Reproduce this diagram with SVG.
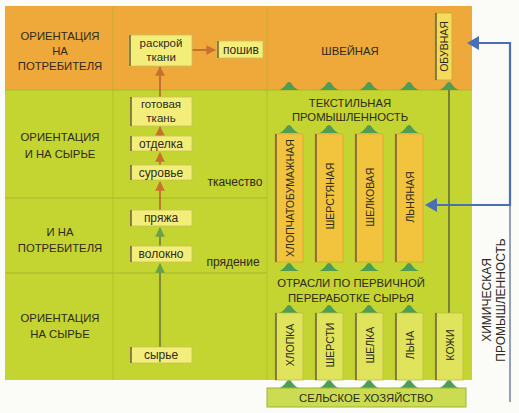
<svg xmlns="http://www.w3.org/2000/svg" width="519" height="413" viewBox="0 0 519 413">
<defs>
<style>
.t{font-family:"Liberation Sans",Arial,sans-serif;fill:#2e2a1e;text-anchor:middle}
.lab{font-size:11.3px}
.chem{font-size:12px}
.box{font-size:12px}
.box2{font-size:11.5px}
.vt{font-size:10.5px}
.mb{fill:#f3ee7a;stroke:#c9c060;stroke-width:0.8}
.edge{stroke:#6e6636;stroke-width:1.6}
.tb{fill:#f2c43e;stroke:#d8a832;stroke-width:0.8}
.rb{fill:#dfe45c;stroke:#b8c040;stroke-width:0.8}
.sep{stroke:#a7b82a;stroke-width:1}
</style>
<path id="tri" d="M-10,0 Q-6,-1 -2,-7 Q0,-9 2,-7 Q6,-1 10,0 Z" fill="#4f9c55"/>
<marker id="ah" viewBox="0 0 10 10" refX="9" refY="5" markerWidth="6" markerHeight="6" orient="auto">
<path d="M0,0 L10,5 L0,10 Z" fill="#c8702e"/>
</marker>
<marker id="ahg" viewBox="0 0 10 10" refX="9" refY="5" markerWidth="6" markerHeight="6" orient="auto">
<path d="M0,0 L10,5 L0,10 Z" fill="#6aa04a"/>
</marker>
</defs>
<rect width="519" height="413" fill="#fbfbf8"/>
<!-- panels -->
<g id="panels">
<rect x="5" y="6" width="467" height="84" fill="#efa93a"/>
<rect x="5" y="90" width="467" height="290" fill="#c4d430"/>
<line class="sep" x1="5" y1="90" x2="472" y2="90" stroke="#d8b83a"/>
<line class="sep" x1="113" y1="6" x2="113" y2="380" stroke="#c08a30" opacity="0.6"/>
<line class="sep" x1="267" y1="6" x2="267" y2="380" stroke="#c08a30" opacity="0.6"/>
<line class="sep" x1="5" y1="198" x2="267" y2="198"/>
<line class="sep" x1="5" y1="273" x2="267" y2="273"/>
</g>
<!-- left labels -->
<g id="orient-consumer">
<text class="t lab" x="60" y="40">ОРИЕНТАЦИЯ</text>
<text class="t lab" x="60" y="55">НА</text>
<text class="t lab" x="60" y="70">ПОТРЕБИТЕЛЯ</text>
</g>
<g id="orient-raw-and">
<text class="t lab" x="60" y="141">ОРИЕНТАЦИЯ</text>
<text class="t lab" x="60" y="158">И НА СЫРЬЕ</text>
</g>
<g id="and-consumer">
<text class="t lab" x="60" y="236">И НА</text>
<text class="t lab" x="60" y="252">ПОТРЕБИТЕЛЯ</text>
</g>
<g id="orient-raw">
<text class="t lab" x="60" y="322">ОРИЕНТАЦИЯ</text>
<text class="t lab" x="60" y="338">НА СЫРЬЕ</text>
</g>
<!-- connectors -->
<g id="connectors" fill="none">
<line x1="160" y1="347" x2="160" y2="264" stroke="#6e7a3a" stroke-width="1.6" marker-end="url(#ahg)"/>
<line x1="160" y1="246" x2="160" y2="228" stroke="#6e7a3a" stroke-width="1.6" marker-end="url(#ahg)"/>
<line x1="160" y1="210" x2="160" y2="182" stroke="#b8652c" stroke-width="1.6" marker-end="url(#ah)"/>
<line x1="160" y1="165" x2="160" y2="153" stroke="#b8652c" stroke-width="1.6" marker-end="url(#ah)"/>
<line x1="160" y1="136" x2="160" y2="127" stroke="#b8652c" stroke-width="1.6" marker-end="url(#ah)"/>
<line x1="160" y1="97" x2="160" y2="67" stroke="#b8652c" stroke-width="1.6" marker-end="url(#ah)"/>
<line x1="192" y1="50" x2="215" y2="50" stroke="#b8652c" stroke-width="1.6" marker-end="url(#ah)"/>
<line x1="449" y1="313" x2="449" y2="88" stroke="#5e6440" stroke-width="1.5"/>
<path d="M510,205 V402" stroke="#7083aa" stroke-width="1.5"/>
<path d="M476,43 H510 V205 H434" stroke="#4a6fb5" stroke-width="2.2"/>
<path d="M467,43 L479,36 L479,50 Z" fill="#4a6fb5"/>
<path d="M425,205 L437,198 L437,212 Z" fill="#4a6fb5"/>
<g id="arrows-row1"><use href="#tri" x="289" y="90"/><use href="#tri" x="329" y="90"/><use href="#tri" x="369" y="90"/><use href="#tri" x="409" y="90"/><use href="#tri" x="449" y="90"/></g>
<g id="arrows-row2"><use href="#tri" x="289" y="133"/><use href="#tri" x="329" y="133"/><use href="#tri" x="369" y="133"/><use href="#tri" x="409" y="133"/></g>
<g id="arrows-row3"><use href="#tri" x="289" y="271"/><use href="#tri" x="329" y="271"/><use href="#tri" x="369" y="271"/><use href="#tri" x="409" y="271"/></g>
<g id="arrows-row4"><use href="#tri" x="289" y="313"/><use href="#tri" x="329" y="313"/><use href="#tri" x="369" y="313"/><use href="#tri" x="409" y="313"/></g>
<g id="arrows-row5"><use href="#tri" x="289" y="388"/><use href="#tri" x="329" y="388"/><use href="#tri" x="369" y="388"/><use href="#tri" x="409" y="388"/><use href="#tri" x="449" y="388"/></g>
</g>
<!-- middle column nodes -->
<g id="raskroy"><rect class="mb" x="129" y="35" width="63" height="31"/><line class="edge" x1="130" y1="35" x2="130" y2="66"/><text class="t box2" x="161" y="47">раскрой</text><text class="t box2" x="161" y="61">ткани</text></g>
<g id="poshiv"><rect class="mb" x="217" y="41" width="46" height="17"/><line class="edge" x1="218" y1="41" x2="218" y2="58"/><text class="t box" x="241" y="54">пошив</text></g>
<g id="gotovaya"><rect class="mb" x="130" y="97" width="62" height="29"/><line class="edge" x1="131" y1="97" x2="131" y2="126"/><text class="t box2" x="161" y="108">готовая</text><text class="t box2" x="161" y="122">ткань</text></g>
<g id="otdelka"><rect class="mb" x="130" y="136" width="62" height="15"/><line class="edge" x1="131" y1="136" x2="131" y2="151"/><text class="t box" x="161" y="148">отделка</text></g>
<g id="surovye"><rect class="mb" x="130" y="165" width="62" height="15"/><line class="edge" x1="131" y1="165" x2="131" y2="180"/><text class="t box" x="161" y="177">суровье</text></g>
<g id="pryazha"><rect class="mb" x="130" y="210" width="62" height="16"/><line class="edge" x1="131" y1="210" x2="131" y2="226"/><text class="t box" x="161" y="222">пряжа</text></g>
<g id="volokno"><rect class="mb" x="130" y="246" width="62" height="16"/><line class="edge" x1="131" y1="246" x2="131" y2="262"/><text class="t box" x="161" y="258">волокно</text></g>
<g id="syrye"><rect class="mb" x="130" y="347" width="62" height="16"/><line class="edge" x1="131" y1="347" x2="131" y2="363"/><text class="t box" x="161" y="359">сырье</text></g>
<g id="tkachestvo"><text class="t box" x="235" y="186">ткачество</text></g>
<g id="pryadenie"><text class="t box" x="233" y="266">прядение</text></g>
<!-- right column -->
<g id="shveynaya"><text class="t lab" x="350" y="55">ШВЕЙНАЯ</text></g>
<g id="obuvnaya"><rect x="435" y="13" width="17" height="67" fill="#f4dc5a" stroke="#c9a838" stroke-width="0.8"/><line class="edge" x1="436" y1="13" x2="436" y2="80"/><text class="t vt" transform="translate(444,46.5) rotate(-90)" dy="0.36em">ОБУВНАЯ</text></g>
<g id="textile"><text class="t lab" x="350" y="107">ТЕКСТИЛЬНАЯ</text><text class="t lab" x="350" y="121">ПРОМЫШЛЕННОСТЬ</text></g>
<g id="hlopchatobumazhnaya"><rect class="tb" x="275" y="134" width="28" height="128"/><line class="edge" x1="276" y1="134" x2="276" y2="262"/><text class="t vt" transform="translate(290,198) rotate(-90)" dy="0.36em">ХЛОПЧАТОБУМАЖНАЯ</text></g>
<g id="sherstyanaya"><rect class="tb" x="315" y="134" width="28" height="128"/><line class="edge" x1="316" y1="134" x2="316" y2="262"/><text class="t vt" transform="translate(330,196) rotate(-90)" dy="0.36em">ШЕРСТЯНАЯ</text></g>
<g id="shelkovaya"><rect class="tb" x="355" y="134" width="28" height="128"/><line class="edge" x1="356" y1="134" x2="356" y2="262"/><text class="t vt" transform="translate(370,197) rotate(-90)" dy="0.36em">ШЕЛКОВАЯ</text></g>
<g id="lnyanaya"><rect class="tb" x="395" y="134" width="28" height="128"/><line class="edge" x1="396" y1="134" x2="396" y2="262"/><text class="t vt" transform="translate(410,197) rotate(-90)" dy="0.36em">ЛЬНЯНАЯ</text></g>
<g id="primary"><text class="t lab" x="351" y="287">ОТРАСЛИ ПО ПЕРВИЧНОЙ</text><text class="t lab" x="351" y="302">ПЕРЕРАБОТКЕ СЫРЬЯ</text></g>
<g id="hlopka"><rect class="rb" x="275" y="313" width="28" height="67"/><line class="edge" x1="276" y1="313" x2="276" y2="380"/><text class="t vt" transform="translate(290,345) rotate(-90)" dy="0.36em">ХЛОПКА</text></g>
<g id="shersti"><rect class="rb" x="315" y="313" width="28" height="67"/><line class="edge" x1="316" y1="313" x2="316" y2="380"/><text class="t vt" transform="translate(330,345) rotate(-90)" dy="0.36em">ШЕРСТИ</text></g>
<g id="shelka"><rect class="rb" x="355" y="313" width="28" height="67"/><line class="edge" x1="356" y1="313" x2="356" y2="380"/><text class="t vt" transform="translate(370,345) rotate(-90)" dy="0.36em">ШЕЛКА</text></g>
<g id="lna"><rect class="rb" x="395" y="313" width="28" height="67"/><line class="edge" x1="396" y1="313" x2="396" y2="380"/><text class="t vt" transform="translate(410,345) rotate(-90)" dy="0.36em">ЛЬНА</text></g>
<g id="kozhi"><rect class="rb" x="435" y="313" width="28" height="67"/><line class="edge" x1="436" y1="313" x2="436" y2="380"/><text class="t vt" transform="translate(450,345) rotate(-90)" dy="0.36em">КОЖИ</text></g>
<g id="agriculture"><rect x="267" y="388" width="199" height="19" fill="#cbdc52" stroke="#9fb43a" stroke-width="1"/><text class="t lab" x="366" y="402">СЕЛЬСКОЕ ХОЗЯЙСТВО</text></g>
<g id="chemical"><text class="t chem" transform="translate(487,300) rotate(-90)" dy="0.36em">ХИМИЧЕСКАЯ</text><text class="t chem" transform="translate(501,300) rotate(-90)" dy="0.36em">ПРОМЫШЛЕННОСТЬ</text></g>
</svg>
